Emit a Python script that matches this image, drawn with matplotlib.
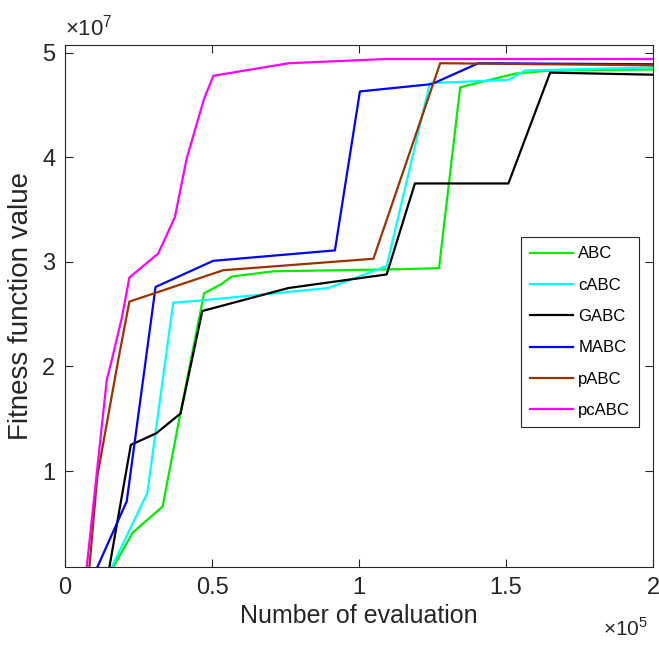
#!/usr/bin/env python3
# -*- coding: utf-8 -*-

import matplotlib
matplotlib.use('Agg')
import matplotlib.pyplot as plt
from matplotlib.ticker import FixedLocator, FuncFormatter

#------------------------------------------------------------------------------
# Data (x in units of 1e5 evaluations, y in units of 1e7)
#------------------------------------------------------------------------------
series_name = ['ABC', 'cABC', 'GABC', 'MABC', 'pABC', 'pcABC']

abc_x   = [0.164, 0.230, 0.332, 0.391, 0.473, 0.533, 0.567, 0.709, 1.139,
           1.272, 1.344, 1.530, 1.650, 2.000]
abc_y   = [0.08, 0.41, 0.66, 1.53, 2.70, 2.79, 2.86, 2.91, 2.93,
           2.94, 4.67, 4.80, 4.83, 4.84]

cabc_x  = [0.159, 0.280, 0.368, 0.459, 0.896, 1.094, 1.241, 1.508, 1.565,
           2.000]
cabc_y  = [0.08, 0.79, 2.61, 2.63, 2.75, 2.96, 4.71, 4.74, 4.83, 4.86]

gabc_x  = [0.151, 0.224, 0.310, 0.393, 0.467, 0.760, 1.094, 1.190, 1.508,
           1.650, 2.000]
gabc_y  = [0.08, 1.25, 1.36, 1.55, 2.53, 2.75, 2.88, 3.75, 3.75,
           4.81, 4.79]

mabc_x  = [0.110, 0.210, 0.308, 0.504, 0.918, 1.003, 1.247, 1.406, 2.000]
mabc_y  = [0.08, 0.71, 2.76, 3.01, 3.11, 4.63, 4.70, 4.90, 4.89]

pabc_x  = [0.083, 0.110, 0.181, 0.219, 0.538, 1.049, 1.276, 2.000]
pabc_y  = [0.08, 0.95, 2.06, 2.62, 2.92, 3.03, 4.90, 4.88]

pcabc_x = [0.074, 0.142, 0.159, 0.193, 0.219, 0.317, 0.374, 0.414, 0.473,
           0.505, 0.762, 1.090, 2.000]
pcabc_y = [0.08, 1.87, 2.06, 2.46, 2.85, 3.08, 3.43, 3.99, 4.56,
           4.78, 4.90, 4.94, 4.94]

x_tick = [0.0, 0.5, 1.0, 1.5, 2.0]
y_tick = [1, 2, 3, 4, 5]

#------------------------------------------------------------------------------
# Main
#------------------------------------------------------------------------------
def main():

  # Collect series
  series_x = [abc_x, cabc_x, gabc_x, mabc_x, pabc_x, pcabc_x]
  series_y = [abc_y, cabc_y, gabc_y, mabc_y, pabc_y, pcabc_y]

  # Plot
  plot_convergence(series_x, series_y)
#------------------------------------------------------------------------------

#------------------------------------------------------------------------------
# Plot convergence curves
#------------------------------------------------------------------------------
def plot_convergence(series_x, series_y):

  # Font
  plt.rcParams['font.family'] = ['Liberation Sans', 'DejaVu Sans']
  plt.rcParams['mathtext.fontset'] = 'custom'
  plt.rcParams['mathtext.rm'] = 'Liberation Sans'

  # Colours
  colour = ['#00ee00', '#00ffff', '#000000', '#0000ff', '#993300', '#ff00ff']
  ink = '#262626'

  # Make new window
  fig = plt.figure(figsize = (6.59, 6.46), dpi = 100)
  ax = fig.add_axes([0.0986, 0.1223, 0.8924, 0.8077])

  # Plot
  for name, xs, ys, c in zip(series_name, series_x, series_y, colour):
    ax.plot([v * 1e5 for v in xs], [v * 1e7 for v in ys],
            color = c, linewidth = 1.6, label = name)

  # Limits
  ax.set_xlim(0, 2e5)
  ax.set_ylim(0.082e7, 5.072e7)

  # Ticks
  ax.xaxis.set_major_locator(FixedLocator([v * 1e5 for v in x_tick]))
  ax.yaxis.set_major_locator(FixedLocator([v * 1e7 for v in y_tick]))
  ax.xaxis.set_major_formatter(FuncFormatter(lambda v, p: '%g' % (v / 1e5)))
  ax.yaxis.set_major_formatter(FuncFormatter(lambda v, p: '%g' % (v / 1e7)))
  ax.tick_params(direction = 'in', length = 6, width = 0.8,
                 top = True, right = True, labelsize = 17,
                 colors = ink, pad = 7)
  for spine in ax.spines.values():
    spine.set_color(ink)
    spine.set_linewidth(0.8)

  # Set axes label
  ax.set_xlabel('Number of evaluation', fontsize = 18, color = ink,
                labelpad = 4)
  ax.set_ylabel('Fitness function value', fontsize = 20, color = ink,
                labelpad = 6)

  # Exponent labels
  ax.text(0.0, 1.01, r'$\times 10^{7}$', transform = ax.transAxes,
          fontsize = 16, color = ink, ha = 'left', va = 'bottom')
  ax.text(0.992, -0.097, r'$\times 10^{5}$', transform = ax.transAxes,
          fontsize = 15, color = ink, ha = 'right', va = 'top')

  # Set legend
  leg = ax.legend(loc = 'upper left', bbox_to_anchor = (0.775, 0.632),
                  fontsize = 12, handlelength = 2.6, labelspacing = 0.98,
                  fancybox = False, framealpha = 1.0, borderpad = 0.55,
                  handletextpad = 0.3, borderaxespad = 0)
  leg.get_frame().set_edgecolor(ink)
  leg.get_frame().set_linewidth(0.8)

  # Save figure
  fig.savefig('out.png', dpi = 100)

  # Close figure
  plt.close(fig)
#------------------------------------------------------------------------------

#------------------------------------------------------------------------------
# Call main
#------------------------------------------------------------------------------
if __name__ == '__main__':
  main()
#------------------------------------------------------------------------------
